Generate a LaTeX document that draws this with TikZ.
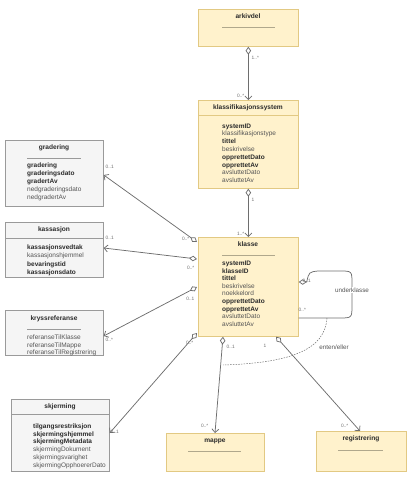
\documentclass[tikz,border=0pt]{standalone}
\usepackage{fontspec}
\setmainfont{Liberation Sans}
\usetikzlibrary{arrows.meta,calc}
\definecolor{yfill}{HTML}{FFF2CC}
\definecolor{ydraw}{HTML}{E2C983}
\definecolor{gfill}{HTML}{F5F5F5}
\definecolor{gdraw}{HTML}{9A9A9A}
\definecolor{txt}{HTML}{2B2B2B}
\definecolor{lighttxt}{HTML}{555555}
\definecolor{conn}{HTML}{6E6E6E}
\definecolor{divline}{HTML}{B0A88C}
\newcommand{\lattr}[1]{{\color{lighttxt}#1}}
\tikzset{
  ybox/.style={draw=ydraw, fill=yfill, line width=0.7pt, anchor=north west, inner sep=0pt},
  gbox/.style={draw=gdraw, fill=gfill, line width=0.7pt, anchor=north west, inner sep=0pt},
  ttl/.style={font=\bfseries\fontsize{6.6}{7.8}\selectfont, text=txt, inner sep=0pt},
  attr/.style={font=\fontsize{6.5}{7.8}\selectfont, text=txt, align=left, anchor=north west, inner sep=0pt},
  mult/.style={font=\fontsize{4.8}{5.5}\selectfont, text=conn, inner sep=0.5pt},
  assoc/.style={draw=conn, line width=0.75pt, {Diamond[open,fill=white,length=8pt,width=5.5pt]}-{Straight Barb[length=3.5pt,width=7pt]}},
  divshort/.style={draw=divline, line width=0.5pt},
}
\begin{document}
\begin{tikzpicture}[x=1pt,y=-1pt]
\useasboundingbox (0,0) rectangle (414,480);

% ---------- yellow boxes ----------
\node[ybox, minimum width=100pt, minimum height=37pt] (arkivdel) at (198,9) {};
\node[ttl] (arkivdelT) at (248,16) {arkivdel};
\draw[divshort] (222,27) -- (275,27);

\node[ybox, minimum width=100pt, minimum height=88pt] (ksys) at (198,100) {};
\node[ttl] (ksysT) at (248,108) {klassifikasjonssystem};
\draw[draw=ydraw, line width=0.7pt] (198,115) -- (298,115);
\node[attr, font=\fontsize{6.5}{7.8}\selectfont] (ksysA) at (222,123.4) {\textbf{systemID}\\ \lattr{klassifikasjonstype}\\ \textbf{tittel}\\ \lattr{beskrivelse}\\ \textbf{opprettetDato}\\ \textbf{opprettetAv}\\ \lattr{avsluttetDato}\\ \lattr{avsluttetAv}};

\node[ybox, minimum width=100pt, minimum height=99pt] (klasse) at (198,237) {};
\node[ttl] (klasseT) at (248,244) {klasse};
\draw[divshort] (222,255) -- (275,255);
\node[attr, font=\fontsize{6.5}{7.6}\selectfont] (klasseA) at (222,260.8) {\textbf{systemID}\\ \textbf{klasseID}\\ \textbf{tittel}\\ \lattr{beskrivelse}\\ \lattr{noekkelord}\\ \textbf{opprettetDato}\\ \textbf{opprettetAv}\\ \lattr{avsluttetDato}\\ \lattr{avsluttetAv}};

\node[ybox, minimum width=98pt, minimum height=38pt] (mappe) at (166,433) {};
\node[ttl] (mappeT) at (215,441) {mappe};
\draw[divshort] (188,451) -- (241,451);

\node[ybox, minimum width=90pt, minimum height=40pt] (registrering) at (316,431) {};
\node[ttl] (registreringT) at (361,439) {registrering};
\draw[divshort] (338,450) -- (383,450);

% ---------- grey boxes ----------
\node[gbox, minimum width=98pt, minimum height=66pt] (gradering) at (5,140) {};
\node[ttl] (graderingT) at (54,148) {gradering};
\draw[divshort, draw=gdraw] (27,158) -- (81,158);
\node[attr, font=\fontsize{6.5}{7.9}\selectfont] (graderingA) at (27,162.6) {\textbf{gradering}\\ \textbf{graderingsdato}\\ \textbf{gradertAv}\\ \lattr{nedgraderingsdato}\\ \lattr{nedgradertAv}};

\node[gbox, minimum width=98pt, minimum height=55pt] (kassasjon) at (5,222) {};
\node[ttl] (kassasjonT) at (54,230) {kassasjon};
\draw[draw=gdraw, line width=0.7pt] (5,238) -- (103,238);
\node[attr, font=\fontsize{6.5}{8.1}\selectfont] (kassasjonA) at (27,244.9) {\textbf{kassasjonsvedtak}\\ \lattr{kassasjonshjemmel}\\ \textbf{bevaringstid}\\ \textbf{kassasjonsdato}};

\node[gbox, minimum width=98pt, minimum height=45pt] (kryss) at (5,310) {};
\node[ttl] (kryssT) at (54,319) {kryssreferanse};
\draw[divshort, draw=gdraw] (27,329) -- (81,329);
\node[attr, font=\fontsize{6.5}{7.5}\selectfont] (kryssA) at (27,334.9) {\lattr{referanseTilKlasse}\\ \lattr{referanseTilMappe}\\ \lattr{referanseTilRegistrering}};

\node[gbox, minimum width=98pt, minimum height=72pt] (skjerming) at (11,399) {};
\node[ttl] (skjermingT) at (60,407) {skjerming};
\draw[draw=gdraw, line width=0.7pt] (11,414) -- (109,414);
\node[attr, font=\fontsize{6.5}{7.7}\selectfont] (skjermingA) at (33,423.6) {\textbf{tilgangsrestriksjon}\\ \textbf{skjermingshjemmel}\\ \textbf{skjermingMetadata}\\ \lattr{skjermingDokument}\\ \lattr{skjermingsvarighet}\\ \lattr{skjermingOpphoererDato}};

% ---------- connector end points ----------
\coordinate (kGrad) at ($(klasse.north west)+(-1,5)$);
\coordinate (kKass) at ($(klasse.north west)+(-1,22)$);
\coordinate (kKryss) at ($(klasse.north west)+(-1,50)$);
\coordinate (kSkj) at ($(klasse.north west)+(-1,96)$);
\coordinate (gradE) at ($(gradering.north east)+(0,35)$);
\coordinate (kassE) at ($(kassasjon.north east)+(0,26)$);
\coordinate (kryssE) at ($(kryss.north east)+(0,26)$);
\coordinate (skjE) at ($(skjerming.north east)+(0,34)$);
\coordinate (kMap) at ($(klasse.south west)+(25,0)$);
\coordinate (kReg) at ($(klasse.south west)+(78,0)$);
\coordinate (mapN) at ($(mappe.north west)+(49,0)$);
\coordinate (regN) at ($(registrering.north west)+(44,0)$);
\coordinate (loopA) at ($(klasse.north east)+(0,45)$);
\coordinate (loopB) at ($(klasse.north east)+(0,81)$);
\coordinate (orS) at (327,318);
\coordinate (orE) at (223,365);

% ---------- connectors ----------
\draw[assoc] (arkivdel.south) -- (ksys.north);
\draw[assoc] (ksys.south) -- (klasse.north);
\draw[assoc] (kGrad) -- (gradE);
\draw[assoc] (kKass) -- (kassE);
\draw[assoc] (kKryss) -- (kryssE);
\draw[assoc] (kSkj) -- (skjE);
\draw[assoc] (kMap) -- (mapN);
\draw[assoc] (kReg) -- (regN);
\draw[draw=conn, line width=0.75pt, {Diamond[open,fill=white,length=8pt,width=5.5pt]}-]
  (loopA) -- ++(8,0) .. controls (309,272) .. (318,271) -- (340,271)
  .. controls (352,271) .. (352,284) -- (352,305)
  .. controls (352,318) .. (339,318) -- (loopB);
\draw[draw=conn, line width=0.5pt, dash pattern=on 1.5pt off 1.2pt] (orS) .. controls (325,350) and (290,363) .. (orE);

% ---------- labels ----------
\node[mult, anchor=west] (m1) at (251,58) {1..*};
\node[mult, anchor=east] (m2) at (245,96) {0..*};
\node[mult, anchor=west] (m3) at (251,200) {1};
\node[mult, anchor=east] (m4) at (245,234) {1..*};
\node[mult, anchor=west] (m5) at (105,167) {0..1};
\node[mult, anchor=east] (m6) at (190,239) {0..*};
\node[mult, anchor=west] (m7) at (105,238) {0..1};
\node[mult, anchor=east] (m8) at (195,268) {0..*};
\node[mult, anchor=east] (m9) at (195,299) {0..1};
\node[mult, anchor=west] (m10) at (105,340) {0..*};
\node[mult, anchor=east] (m11) at (194,343) {0..*};
\node[mult, anchor=west] (m12) at (110,432) {0..1};
\node[mult, anchor=west] (m13) at (302,281) {0..1};
\node[mult, anchor=west] (m14) at (298,310) {0..*};
\node[mult, anchor=west] (m15) at (226,347) {0..1};
\node[mult, anchor=east] (m16) at (209,426) {0..*};
\node[mult, anchor=center] (m17) at (265,346) {1};
\node[mult, anchor=east] (m18) at (349,426) {0..*};
\node[font=\fontsize{6.3}{7}\selectfont, text=lighttxt, fill=white, inner sep=1pt] (underkl) at (352,290) {underklasse};
\node[font=\fontsize{6.3}{7}\selectfont, text=lighttxt, inner sep=1pt] (enten) at (334,347) {enten/eller};
\end{tikzpicture}
\end{document}
